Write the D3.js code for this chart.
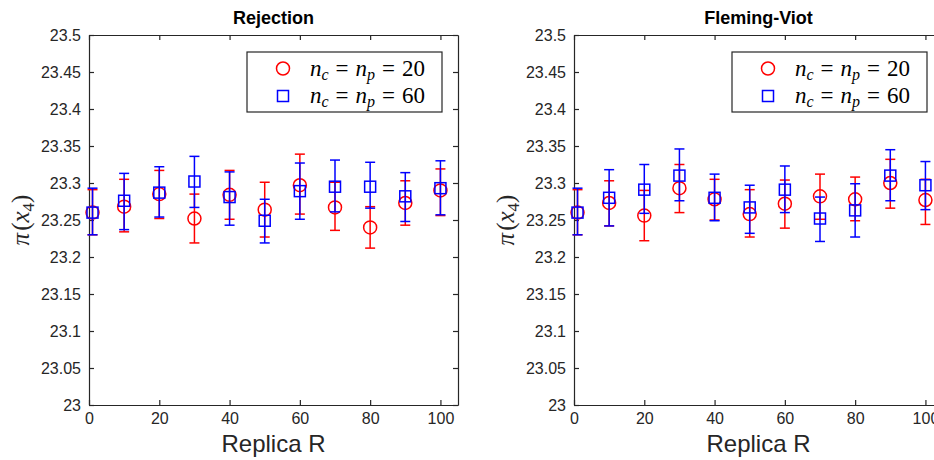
<!DOCTYPE html>
<html><head><meta charset="utf-8">
<script src="https://cdn.jsdelivr.net/npm/d3@7"></script>
<style>body{margin:0;background:#fff;overflow:hidden}</style>
</head><body><svg id="c" width="934" height="460"></svg>
<script>
const replicas = [1,10,20,30,40,50,60,70,80,90,100];
const yTickValues = [23,23.05,23.1,23.15,23.2,23.25,23.3,23.35,23.4,23.45,23.5];
const yTickLabels = ["23","23.05","23.1","23.15","23.2","23.25","23.3","23.35","23.4","23.45","23.5"];
const xTickValues = [0,20,40,60,80,100];
const xTickLabels = ["0","20","40","60","80","100"];
const titles = ["Rejection","Fleming-Viot"];
const seriesNames = ["20","60"];

// Rejection
const rejRedMean = [23.260,23.268,23.285,23.252,23.284,23.264,23.297,23.267,23.240,23.273,23.290];
const rejRedLow  = [23.230,23.234,23.252,23.219,23.251,23.227,23.258,23.236,23.212,23.243,23.256];
const rejRedHigh = [23.291,23.305,23.317,23.285,23.317,23.301,23.339,23.301,23.268,23.303,23.319];
const rejBlueMean = [23.260,23.276,23.287,23.302,23.281,23.249,23.289,23.295,23.295,23.282,23.293];
const rejBlueLow  = [23.230,23.237,23.254,23.267,23.243,23.219,23.251,23.261,23.266,23.248,23.257];
const rejBlueHigh = [23.293,23.313,23.322,23.336,23.315,23.278,23.327,23.331,23.328,23.314,23.330];
// Fleming-Viot
const fvRedMean = [23.260,23.273,23.256,23.293,23.278,23.258,23.272,23.282,23.278,23.300,23.277];
const fvRedLow  = [23.230,23.242,23.222,23.260,23.250,23.227,23.239,23.251,23.249,23.266,23.244];
const fvRedHigh = [23.291,23.303,23.290,23.325,23.305,23.291,23.304,23.312,23.308,23.332,23.305];
const fvBlueMean = [23.260,23.280,23.291,23.310,23.280,23.267,23.291,23.252,23.263,23.310,23.297];
const fvBlueLow  = [23.230,23.242,23.259,23.276,23.249,23.232,23.260,23.221,23.227,23.276,23.264];
const fvBlueHigh = [23.293,23.318,23.325,23.346,23.312,23.297,23.323,23.281,23.299,23.345,23.329];

const panels = [
  {title:titles[0], left:89, red:[rejRedMean,rejRedLow,rejRedHigh], blue:[rejBlueMean,rejBlueLow,rejBlueHigh]},
  {title:titles[1], left:574, red:[fvRedMean,fvRedLow,fvRedHigh], blue:[fvBlueMean,fvBlueLow,fvBlueHigh]}
];
const svg = d3.select("#c");
const W = 369, TOP = 35, H = 370;
const axisCol = "#262626";

panels.forEach(p => {
  const g = svg.append("g").attr("transform", `translate(${p.left},${TOP})`);
  const x = d3.scaleLinear().domain([0,105]).range([0,W]);
  const y = d3.scaleLinear().domain([23,23.5]).range([H,0]);
  const clipId = "clip"+p.left;
  g.append("clipPath").attr("id",clipId).append("rect").attr("x",-8).attr("y",-8).attr("width",W+16).attr("height",H+16);

  const yl = d3.axisLeft(y).tickValues(yTickValues).tickFormat((d,i)=>yTickLabels[i]).tickSizeInner(-5).tickSizeOuter(0).tickPadding(8);
  const yr = d3.axisRight(y).tickValues(yTickValues).tickFormat("").tickSizeInner(-5).tickSizeOuter(0);
  const xb = d3.axisBottom(x).tickValues(xTickValues).tickFormat((d,i)=>xTickLabels[i]).tickSizeInner(-5).tickSizeOuter(0).tickPadding(8);
  const xt = d3.axisTop(x).tickValues(xTickValues).tickFormat("").tickSizeInner(-5).tickSizeOuter(0);
  const style = s => { s.selectAll("path,line").attr("stroke",axisCol).attr("stroke-width",1.2);
    s.selectAll("text").attr("fill",axisCol).style("font-family","Liberation Sans, Arial, sans-serif").style("font-size","16px"); };
  g.append("g").call(yl).call(style);
  g.append("g").attr("transform",`translate(${W},0)`).call(yr).call(style);
  g.append("g").attr("transform",`translate(0,${H})`).call(xb).call(style);
  g.append("g").call(xt).call(style);

  const dg = g.append("g").attr("clip-path",`url(#${clipId})`);
  const drawSeries = (arr, color, shape) => {
    const [m,lo,hi] = arr;
    const data = replicas.map((r,i)=>({r, m:m[i], lo:lo[i], hi:hi[i]}));
    const s = dg.append("g").attr("stroke",color).attr("fill","none").attr("stroke-width",1.5);
    s.selectAll(".v").data(data).join("line").attr("class","v").attr("x1",d=>x(d.r)).attr("x2",d=>x(d.r)).attr("y1",d=>y(d.lo)).attr("y2",d=>y(d.hi));
    s.selectAll(".t").data(data).join("line").attr("class","t").attr("x1",d=>x(d.r)-5).attr("x2",d=>x(d.r)+5).attr("y1",d=>y(d.hi)).attr("y2",d=>y(d.hi));
    s.selectAll(".b").data(data).join("line").attr("class","b").attr("x1",d=>x(d.r)-5).attr("x2",d=>x(d.r)+5).attr("y1",d=>y(d.lo)).attr("y2",d=>y(d.lo));
    if (shape==="circle") s.selectAll("circle").data(data).join("circle").attr("cx",d=>x(d.r)).attr("cy",d=>y(d.m)).attr("r",6.5);
    else s.selectAll("rect").data(data).join("rect").attr("x",d=>x(d.r)-5.5).attr("y",d=>y(d.m)-5.5).attr("width",11).attr("height",11);
  };
  drawSeries(p.red,"#ff0000","circle");
  drawSeries(p.blue,"#0000ff","square");

  g.append("text").attr("x",W/2).attr("y",-11).attr("text-anchor","middle")
    .style("font-family","Liberation Sans, Arial, sans-serif").style("font-weight","bold").style("font-size","18px").attr("fill","#000").text(p.title);
  g.append("text").attr("x",W/2).attr("y",H+47).attr("text-anchor","middle")
    .style("font-family","Liberation Sans, Arial, sans-serif").style("font-size","24px").attr("fill",axisCol).text("Replica R");
  const ylab = g.append("text").attr("transform",`translate(-60,${H/2}) rotate(-90)`).attr("text-anchor","middle")
    .style("font-family","Liberation Serif, serif").style("font-size","25px").attr("fill",axisCol);
  ylab.append("tspan").style("font-style","italic").text("π");
  ylab.append("tspan").attr("dx",2).text("(");
  ylab.append("tspan").style("font-style","italic").text("x");
  ylab.append("tspan").attr("dy",5).style("font-size","17px").text("4");
  ylab.append("tspan").attr("dy",-5).text(")");

  const lg = g.append("g").attr("transform",`translate(${W-16-195},17)`);
  lg.append("rect").attr("width",195).attr("height",60).attr("fill","#fff").attr("stroke",axisCol).attr("stroke-width",1.2);
  const items = [{c:"#ff0000",shape:"circle",v:seriesNames[0]},{c:"#0000ff",shape:"square",v:seriesNames[1]}];
  items.forEach((it,i)=>{
    const cy = 16.5 + i*27.5;
    if (it.shape==="circle") lg.append("circle").attr("cx",36).attr("cy",cy).attr("r",6.5).attr("fill","none").attr("stroke",it.c).attr("stroke-width",1.5);
    else lg.append("rect").attr("x",30.5).attr("y",cy-5.5).attr("width",11).attr("height",11).attr("fill","none").attr("stroke",it.c).attr("stroke-width",1.5);
    const t = lg.append("text").attr("x",63).attr("y",cy+7).style("font-family","Liberation Serif, serif").style("font-size","23px").attr("fill","#000");
    t.append("tspan").style("font-style","italic").text("n");
    t.append("tspan").attr("dy",4).style("font-style","italic").style("font-size","16px").text("c");
    t.append("tspan").attr("dy",-4).attr("dx",7).text("=");
    t.append("tspan").attr("dx",7).style("font-style","italic").text("n");
    t.append("tspan").attr("dy",4).style("font-style","italic").style("font-size","16px").text("p");
    t.append("tspan").attr("dy",-4).attr("dx",7).text("=");
    t.append("tspan").attr("dx",7).text(it.v);
  });
});
</script></body></html>
